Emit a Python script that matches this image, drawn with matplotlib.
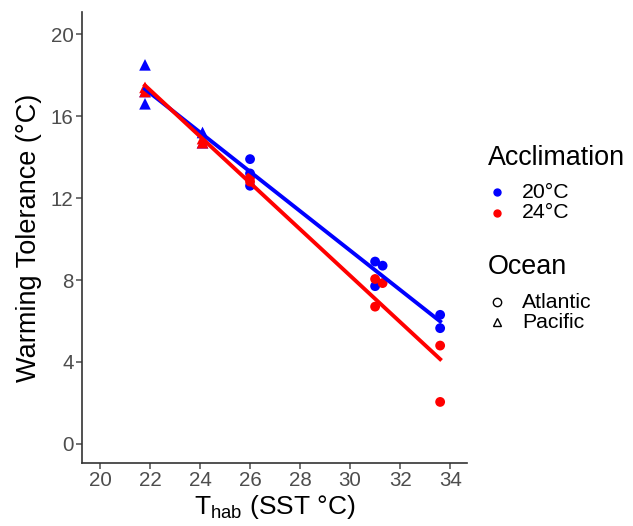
import numpy as np
import matplotlib
matplotlib.use('Agg')
import matplotlib.pyplot as plt

plt.rcParams['font.family'] = ['Liberation Sans', 'DejaVu Sans']
plt.rcParams['mathtext.fontset'] = 'custom'
plt.rcParams['mathtext.rm'] = 'Liberation Sans'

# 20°C 驯化组
t20_x = [21.8, 21.8, 21.8, 24.1, 24.1, 26.0, 26.0, 26.0, 31.0, 31.3, 31.0, 33.6, 33.6]
t20_y = [18.5, 17.2, 16.6, 15.2, 14.7, 13.9, 13.2, 12.6, 8.9, 8.7, 7.7, 6.3, 5.65]
t20_ocean = ['Pacific', 'Pacific', 'Pacific', 'Pacific', 'Pacific', 'Atlantic', 'Atlantic', 'Atlantic',
             'Atlantic', 'Atlantic', 'Atlantic', 'Atlantic', 'Atlantic']

# 24°C 驯化组
t24_x = [21.8, 21.8, 24.1, 24.1, 26.0, 26.0, 31.0, 31.3, 31.0, 33.6, 33.6]
t24_y = [17.4, 17.2, 14.9, 14.7, 13.0, 12.8, 8.05, 7.85, 6.7, 4.8, 2.05]
t24_ocean = ['Pacific', 'Pacific', 'Pacific', 'Pacific', 'Atlantic', 'Atlantic',
             'Atlantic', 'Atlantic', 'Atlantic', 'Atlantic', 'Atlantic']

groups = [('20°C', 'blue', t20_x, t20_y, t20_ocean),
          ('24°C', 'red', t24_x, t24_y, t24_ocean)]
markers = {'Atlantic': 'o', 'Pacific': '^'}

fig = plt.figure(figsize=(6.33, 5.26), dpi=100)
ax = fig.add_axes([0.1295, 0.1198, 0.6085, 0.857])

for name, col, xs, ys, oc in groups:
    xs = np.array(xs)
    ys = np.array(ys)
    oc = np.array(oc)
    for ocean, m in markers.items():
        sel = oc == ocean
        ax.scatter(xs[sel], ys[sel], c=col, marker=m, s=50 if m == 'o' else 70,
                   edgecolors='none', zorder=3)

# 线性拟合
for name, col, xs, ys, oc in groups:
    k, b = np.polyfit(xs, ys, 1)
    xx = np.array([min(xs), max(xs)])
    ax.plot(xx, k * xx + b, color=col, lw=2.8, zorder=4)

ax.set_xlim(19.28, 34.68)
ax.set_ylim(-0.93, 21.07)
ax.set_xticks(range(20, 35, 2))
ax.set_yticks(range(0, 21, 4))
for s in ['top', 'right']:
    ax.spines[s].set_visible(False)
for s in ['left', 'bottom']:
    ax.spines[s].set_color('#333333')
    ax.spines[s].set_linewidth(1.2)
ax.tick_params(axis='both', labelsize=14.8, colors='#4D4D4D', length=4, width=1.1, pad=2)
ax.set_xlabel(r'T$_\mathrm{hab}$ (SST °C)', fontsize=19, labelpad=2)
ax.set_ylabel('Warming Tolerance (°C)', fontsize=19.5, labelpad=6)

# 图例（手动放置）
W, H = 633.0, 526.0
def fx(px):
    return px / W
def fy(py):
    return 1 - py / H

fig.text(fx(488), fy(158), 'Acclimation', fontsize=19.4, va='center', ha='left')
for lab, col, py in [('20°C', 'blue', 192), ('24°C', 'red', 213)]:
    fig.add_artist(plt.Line2D([fx(497)], [fy(py)], ls='none', marker='o', color=col,
                              markersize=5, transform=fig.transFigure))
    fig.text(fx(522), fy(py), lab, fontsize=15.3, va='center', ha='left')

fig.text(fx(488), fy(267), 'Ocean', fontsize=19.4, va='center', ha='left')
for lab, m, py in [('Atlantic', 'o', 302), ('Pacific', '^', 322)]:
    fig.add_artist(plt.Line2D([fx(497)], [fy(py)], ls='none', marker=m, markerfacecolor='none',
                              markeredgecolor='black', markersize=6, transform=fig.transFigure))
    fig.text(fx(522), fy(py), lab, fontsize=15.3, va='center', ha='left')

fig.savefig('out.png', dpi=100)
